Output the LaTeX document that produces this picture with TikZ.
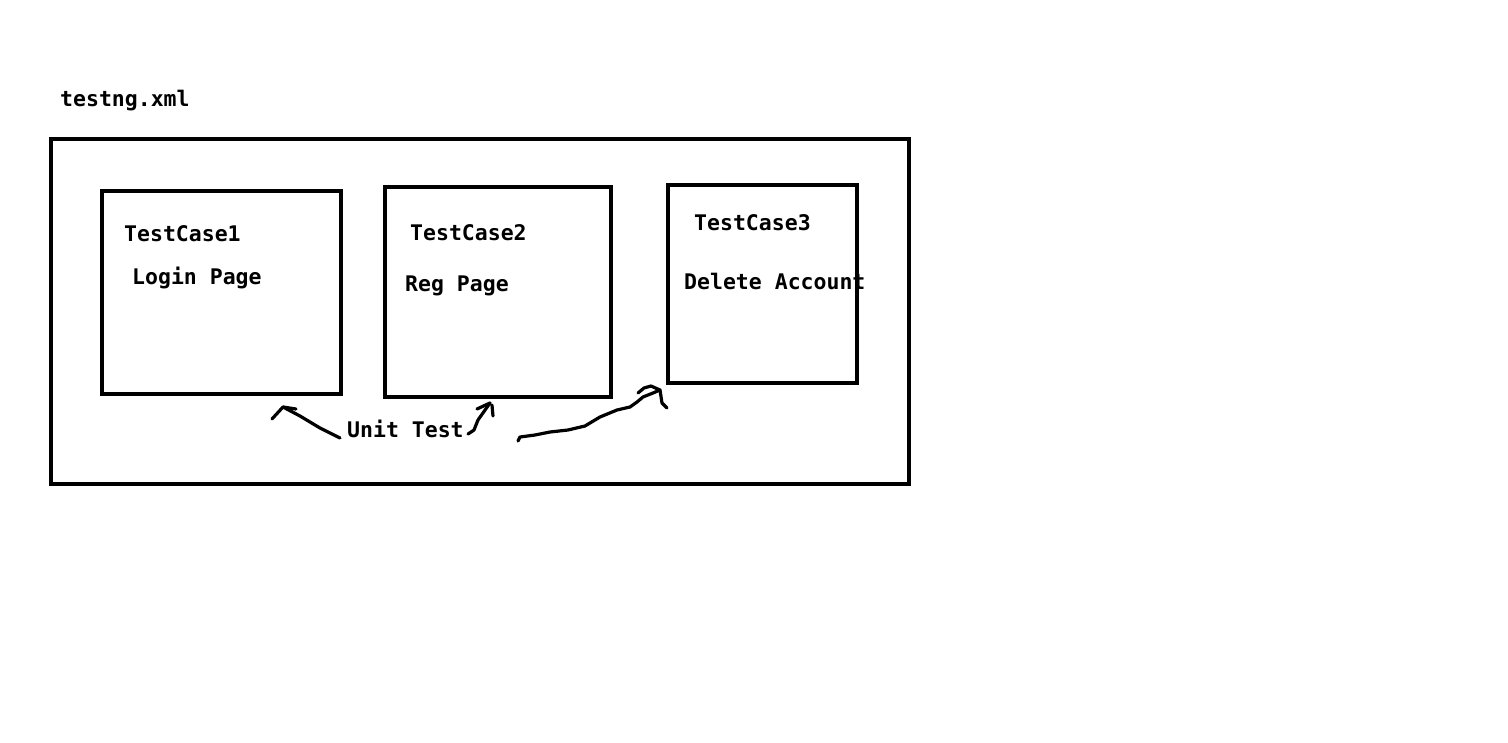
\documentclass[tikz,border=0pt]{standalone}
\usepackage{fontspec}
\setmonofont{DejaVu Sans Mono}
\begin{document}
\begin{tikzpicture}[x=1pt,y=-1pt,
  box/.style={draw,line width=4pt,inner sep=0pt},
  lbl/.style={font=\ttfamily\bfseries\fontsize{21.5}{25}\selectfont,anchor=west,inner sep=0pt},
  hand/.style={line width=3.2pt,line cap=round,line join=round}]
\useasboundingbox[fill=white] (0,0) rectangle (1508,742);
\draw[line width=4pt] (51,139) rectangle (909,484);
\node[box,minimum width=239pt,minimum height=203pt] (tc1) at (221.5,292.5) {};
\node[box,minimum width=226pt,minimum height=210pt] (tc2) at (498,292) {};
\node[box,minimum width=189pt,minimum height=198pt] (tc3) at (762.5,284) {};
\node[lbl] (xml) at (60,101) {testng.xml};
\node[lbl] (t1) at (124,234) {TestCase1};
\node[lbl] (l1) at (132,278) {Login Page};
\node[lbl] (t2) at (410,233) {TestCase2};
\node[lbl] (l2) at (405,286) {Reg Page};
\node[lbl] (t3) at (694,223) {TestCase3};
\node[lbl] (l3) at (684,281) {Delete Account};
\node[lbl] (ut) at (347,429) {Unit Test};
% hand-drawn arrows
\coordinate (a1s) at (340,438);
\coordinate (a1e) at (283,407);
\draw[hand] (a1s) -- (320,428) -- (300,416) -- (a1e);
\draw[hand] (272,419) -- (a1e) -- (296,409);
\coordinate (a2s) at (468,434);
\coordinate (a2e) at (490,403);
\draw[hand] (a2s) -- (474,430) -- (478,420) -- (a2e);
\draw[hand] (477,409) -- (a2e);
\draw[hand] (492,405) -- (493,416);
\coordinate (a3s) at (518,441);
\coordinate (a3e) at (660,390);
\draw[hand] (a3s) -- (520,437) -- (535,435) -- (550,432) -- (568,430) -- (585,426) -- (600,417) -- (617,410) -- (630,407) -- (637,402) -- (643,397) -- (653,393) -- (a3e);
\draw[hand] (638,393) -- (644,388) -- (651,386) -- (a3e) -- (662,403) -- (667,408);
\end{tikzpicture}
\end{document}
